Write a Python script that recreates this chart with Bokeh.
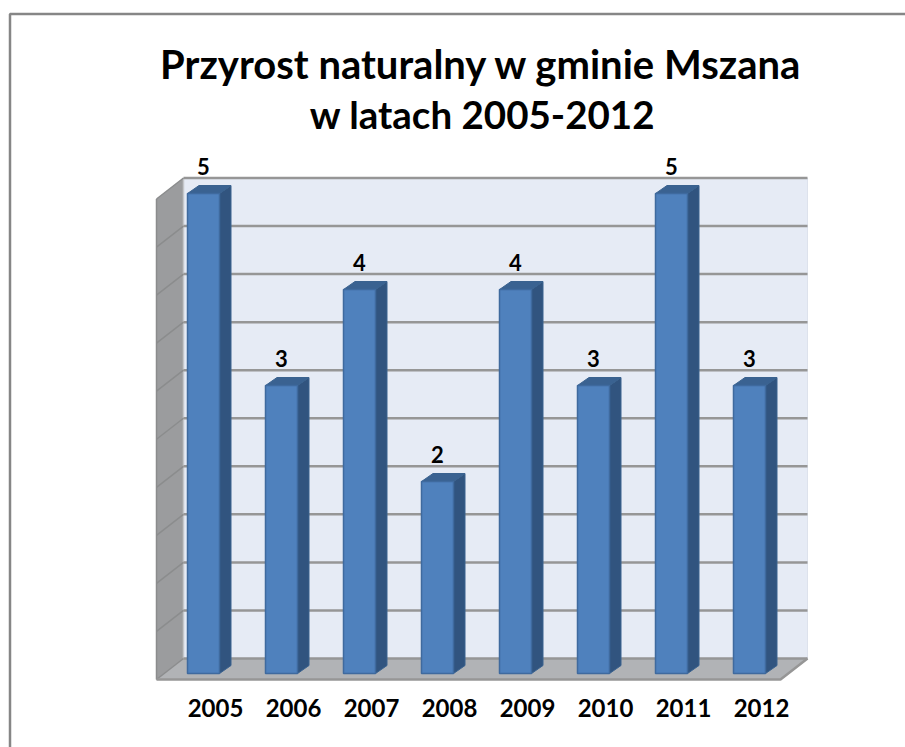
from bokeh.plotting import figure
from bokeh.models import FixedTicker, Range1d
from bokeh.core.properties import value
from bokeh.embed import file_html
from bokeh.resources import INLINE

years = ["2005", "2006", "2007", "2008", "2009", "2010", "2011", "2012"]
growth = [5, 3, 4, 2, 4, 3, 5, 3]
grid_levels = [0, 0.5, 1, 1.5, 2, 2.5, 3, 3.5, 4, 4.5, 5]
title_lines = ["Przyrost naturalny w gminie Mszana", "w latach 2005-2012"]

W, H = 905, 747
PX, PY = 78.0, 96.0          # pixels per category, per unit
X0, Y0 = 203.0, 673.0        # page position of category 0, value 0
xd = lambda px: (px - X0) / PX
yd = lambda py: (Y0 - py) / PY
dxu = lambda d: d / PX
dyu = lambda d: d / PY

p = figure(width=W, height=H, output_backend="svg", toolbar_location=None,
           x_range=Range1d(xd(0), xd(W)), y_range=Range1d(yd(H), yd(0)),
           min_border=0, min_border_left=0, min_border_right=0, min_border_top=0, min_border_bottom=0,
           outline_line_color=None, background_fill_color="white", border_fill_color="white")
p.grid.visible = False
p.yaxis.visible = False

FONT = "Lato"
# page frame
fx, fy = xd(9.5), yd(13.5)
p.line([fx, fx, xd(905)], [yd(747), fy, fy], line_color="#868686", line_width=2.5)

# 3D box geometry
wl, wr = xd(183), xd(807)          # back wall left/right
fl, fr = xd(156), xd(780)          # front floor left/right
gb = yd(658)                       # floor back y at value 0
gf = yd(679)                       # floor front
unit = 96.1 / PY
back = [gb + v * unit for v in grid_levels]
front = [gf + v * unit for v in grid_levels]

p.patch([wl, wr, wr, wl], [back[0], back[0], back[-1], back[-1]], fill_color="#E6EBF5", line_color=None)
p.patch([fl, wl, wl, fl], [front[0], back[0], back[-1], front[-1]], fill_color="#9B9C9E", line_color=None)
p.patch([fl, fr, wr, wl], [gf, gf, gb, gb], fill_color="#B1B3B6", line_color=None)
# wall edge highlight
p.line([wl, wl], [back[0], back[-1]], line_color="#C4C6CA", line_width=1.5)
p.line([wr, wr], [back[0], back[-1]], line_color="#DDE2EC", line_width=1)

for b, f in zip(back, front):
    p.line([wl, wr], [b, b], line_color="#969696", line_width=2.5)
    p.line([fl, wl], [f, b], line_color="#8B8C8D", line_width=1.5)
p.line([fl, fl], [front[0], front[-1]], line_color="#8B8C8D", line_width=1.5)
p.line([fl, fr, wr], [gf, gf, gb], line_color="#969696", line_width=2.5)

# Bars
hw = dxu(16)
ox, oy = dxu(11.5), dyu(8)
for i, v in enumerate(growth):
    l, r = i - hw, i + hw
    p.patch([r, r + ox, r + ox, r], [0, oy, v + oy, v], fill_color="#31547F", line_color="#3A628F", line_width=1)
    p.patch([l, r, r + ox, l + ox], [v, v, v + oy, v + oy], fill_color="#3A6291", line_color="#3A628F", line_width=1)
    p.quad(left=l, right=r, bottom=0, top=v, fill_color="#4F81BD", line_color="#3F6A9E", line_width=1.5)

# Value labels
p.text(x=list(range(len(years))), y=[v + dyu(27.5) for v in growth],
       text=[str(v) for v in growth],
       text_font=value(FONT), text_font_style="bold", text_font_size="22px", text_color="black",
       text_align="center", text_baseline="middle")

# Title
p.text(x=[xd(481)], y=[yd(63)], text=title_lines[:1],
       text_font=value(FONT), text_font_style="bold", text_font_size="40px", text_color="black",
       text_align="center", text_baseline="middle")
p.text(x=[xd(482)], y=[yd(113.5)], text=title_lines[1:],
       text_font=value(FONT), text_font_style="bold", text_font_size="38.5px", text_color="black",
       text_align="center", text_baseline="middle")

# Category axis: labels sit to the right of the bars, on a shifted copy of the x scale
shift = dxu(12)
p.extra_x_ranges["labels"] = Range1d(xd(0) - shift, xd(W) - shift)
ax = p.xaxis[0]
ax.x_range_name = "labels"
ax.fixed_location = yd(689)
ax.ticker = FixedTicker(ticks=list(range(len(years))))
ax.major_label_overrides = {i: y for i, y in enumerate(years)}
ax.axis_line_color = None
ax.major_tick_line_color = None
ax.minor_tick_line_color = None
ax.major_label_standoff = 3
ax.major_label_text_font = FONT
ax.major_label_text_font_style = "bold"
ax.major_label_text_font_size = "24px"
ax.major_label_text_color = "black"

open("out.html", "w").write(file_html(p, INLINE))
